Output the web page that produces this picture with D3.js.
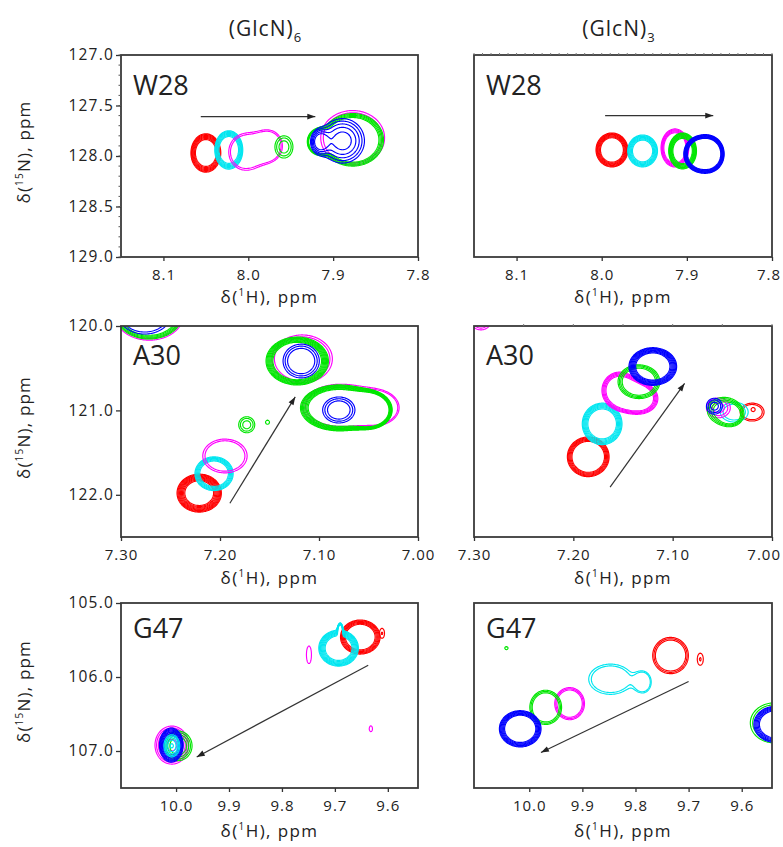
<!DOCTYPE html>
<html><head><meta charset="utf-8">
<script src="https://cdn.jsdelivr.net/npm/d3@7"></script>
<style>
body{margin:0;background:#fff;}
svg text{font-family:"Open Sans",sans-serif;fill:#222;}
</style></head><body>
<svg id="c" width="783" height="847"></svg>
<script>
// ================= DATA =================
// titration points (spectra), drawn in these colours
const steps = [0, 1, 2, 3, 4];
const stepColors = ["#ff0000", "#00e6f0", "#ff00ff", "#00e600", "#0000ff"];

const columnTitles = ["(GlcN)", "(GlcN)"];
const columnSubs = ["6", "3"];
const residues = ["W28", "A30", "G47"];

// axis ranges (ppm) and tick labels
const hRangeW28 = [8.15, 7.80],  nRangeW28 = [127.0, 129.0];
const hRangeA30 = [7.30, 7.00],  nRangeA30 = [120.0, 122.5];
const hRangeG47 = [10.104, 9.543], nRangeG47 = [105.0, 107.5];
const hTicksW28 = [8.1, 8.0, 7.9, 7.8];
const nTicksW28 = [127.0, 127.5, 128.0, 128.5, 129.0];
const hTicksA30 = [7.30, 7.20, 7.10, 7.00];
const nTicksA30 = [120.0, 121.0, 122.0];
const hTicksG47 = [10.0, 9.9, 9.8, 9.7, 9.6];
const nTicksG47 = [105.0, 106.0, 107.0];

// cross peaks: step, number of contour lines, inner/outer contour ratio,
// components [1H ppm, 15N ppm, 1H half-width, 15N half-width]
const peaksW28_6 = [
  {step:0, lines:7, inner:0.70, comps:[[8.050,127.97,0.0176,0.19]]},
  {step:1, lines:7, inner:0.70, comps:[[8.023,127.94,0.0165,0.19]]},
  {step:2, lines:2, inner:0.90, comps:[[8.003,127.96,0.020,0.18],[7.976,127.90,0.016,0.15]]},
  {step:3, lines:3, inner:0.55, comps:[[7.958,127.91,0.0106,0.11]]},
  {step:2, lines:2, inner:0.92, comps:[[7.877,127.82,0.0376,0.27]]},
  {step:3, lines:5, inner:0.85, comps:[[7.877,127.84,0.0364,0.26],[7.918,127.86,0.0106,0.10]]},
  {step:4, lines:5, inner:0.40, comps:[[7.889,127.85,0.0259,0.22],[7.916,127.86,0.009,0.10]]}
];
const peaksW28_3 = [
  {step:0, lines:7, inner:0.72, comps:[[7.988,127.94,0.0187,0.168]]},
  {step:1, lines:7, inner:0.68, comps:[[7.952,127.95,0.0175,0.158]]},
  {step:2, lines:5, inner:0.80, comps:[[7.914,127.92,0.0163,0.188]]},
  {step:3, lines:8, inner:0.70, comps:[[7.905,127.95,0.0163,0.178]]},
  {step:4, lines:8, inner:0.70, comps:[[7.887,127.98,0.0163,0.158],[7.872,127.98,0.0152,0.158]]}
];
const peaksA30_6 = [
  {step:0, lines:9, inner:0.65, comps:[[7.221,121.98,0.0224,0.225]]},
  {step:1, lines:6, inner:0.75, comps:[[7.206,121.75,0.0193,0.20]]},
  {step:2, lines:2, inner:0.90, comps:[[7.195,121.54,0.0224,0.20]]},
  {step:2, lines:2, inner:0.93, comps:[[7.2715,119.858,0.035,0.31]]},
  {step:2, lines:2, inner:0.92, comps:[[7.117,120.39,0.0305,0.284]]},
  {step:2, lines:2, inner:0.92, comps:[[7.078,120.95,0.0387,0.26],[7.040,120.97,0.0183,0.166]]},
  {step:3, lines:3, inner:0.50, comps:[[7.173,121.17,0.0081,0.095]]},
  {step:3, lines:1, inner:0.00, comps:[[7.152,121.14,0.002,0.024]]},
  {step:3, lines:5, inner:0.85, comps:[[7.2715,119.858,0.0336,0.296]]},
  {step:3, lines:8, inner:0.78, comps:[[7.122,120.415,0.0315,0.284]]},
  {step:3, lines:8, inner:0.80, comps:[[7.080,120.97,0.0387,0.272],[7.046,121.00,0.0163,0.166]]},
  {step:4, lines:2, inner:0.90, comps:[[7.276,119.858,0.0265,0.237]]},
  {step:4, lines:3, inner:0.75, comps:[[7.118,120.415,0.0183,0.20]]},
  {step:4, lines:3, inner:0.70, comps:[[7.080,120.995,0.0163,0.154]]}
];
const peaksA30_3 = [
  {step:0, lines:6, inner:0.78, comps:[[7.185,121.55,0.021,0.235]]},
  {step:0, lines:2, inner:0.85, comps:[[7.020,121.02,0.012,0.106]]},
  {step:0, lines:1, inner:0.00, comps:[[7.019,120.99,0.002,0.024]]},
  {step:1, lines:7, inner:0.72, comps:[[7.171,121.16,0.020,0.246]]},
  {step:1, lines:2, inner:0.80, comps:[[7.038,121.02,0.014,0.117]]},
  {step:2, lines:5, inner:0.75, comps:[[7.154,120.76,0.017,0.21],[7.133,120.86,0.018,0.176]]},
  {step:2, lines:3, inner:0.50, comps:[[7.054,120.97,0.012,0.117]]},
  {step:2, lines:2, inner:0.80, comps:[[7.293,119.94,0.010,0.106]]},
  {step:3, lines:4, inner:0.80, comps:[[7.134,120.66,0.021,0.20]]},
  {step:3, lines:4, inner:0.60, comps:[[7.049,121.00,0.016,0.153],[7.041,121.06,0.010,0.106]]},
  {step:4, lines:8, inner:0.72, comps:[[7.120,120.48,0.024,0.223]]},
  {step:4, lines:3, inner:0.50, comps:[[7.058,120.95,0.008,0.094]]}
];
const peaksG47_6 = [
  {step:0, lines:6, inner:0.75, comps:[[9.652,105.46,0.0374,0.23]]},
  {step:0, lines:2, inner:0.30, comps:[[9.611,105.41,0.0047,0.068]]},
  {step:1, lines:8, inner:0.68, comps:[[9.693,105.61,0.0374,0.243],[9.690,105.365,0.0037,0.08]]},
  {step:2, lines:6, inner:0.30, comps:[[10.008,106.92,0.0318,0.257]]},
  {step:2, lines:2, inner:0.00, comps:[[9.749,105.70,0.0047,0.12]]},
  {step:2, lines:1, inner:0.00, comps:[[9.632,106.70,0.003,0.04]]},
  {step:3, lines:4, inner:0.60, comps:[[9.996,106.93,0.0262,0.20]]},
  {step:4, lines:7, inner:0.60, comps:[[10.009,106.92,0.0224,0.23]]},
  {step:1, lines:5, inner:0.20, comps:[[10.008,106.93,0.015,0.149]]}
];
const peaksG47_3 = [
  {step:0, lines:3, inner:0.85, comps:[[9.734,105.71,0.0336,0.245]]},
  {step:0, lines:2, inner:0.30, comps:[[9.678,105.76,0.0056,0.082]]},
  {step:1, lines:2, inner:0.88, comps:[[9.847,106.03,0.041,0.204],[9.786,106.07,0.015,0.136]]},
  {step:2, lines:3, inner:0.85, comps:[[9.924,106.36,0.028,0.217]]},
  {step:3, lines:3, inner:0.85, comps:[[9.969,106.41,0.0299,0.231]]},
  {step:3, lines:2, inner:0.90, comps:[[9.539,106.62,0.0448,0.27]]},
  {step:3, lines:1, inner:0.00, comps:[[10.043,105.61,0.003,0.02]]},
  {step:4, lines:7, inner:0.75, comps:[[10.017,106.70,0.0392,0.245]]},
  {step:4, lines:6, inner:0.75, comps:[[9.536,106.64,0.041,0.245]]}
];

// titration direction arrows [from, to] in ppm
const arrowW28_6 = [[8.056,127.61],[7.921,127.61]];
const arrowW28_3 = [[7.996,127.60],[7.869,127.60]];
const arrowA30_6 = [[7.190,122.10],[7.124,120.84]];
const arrowA30_3 = [[7.163,121.91],[7.088,120.68]];
const arrowG47_6 = [[9.637,105.84],[9.961,107.08]];
const arrowG47_3 = [[9.700,106.06],[9.978,107.02]];

// ================= LAYOUT =================
const rows = [
  {y0:55, y1:257, hR:hRangeW28, nR:nRangeW28, hT:hTicksW28, nT:nTicksW28, hF:".1f", labDy:40, xtY:303},
  {y0:326, y1:537, hR:hRangeA30, nR:nRangeA30, hT:hTicksA30, nT:nTicksA30, hF:".2f", labDy:39, xtY:584},
  {y0:603, y1:788, hR:hRangeG47, nR:nRangeG47, hT:hTicksG47, nT:nTicksG47, hF:".1f", labDy:35, xtY:837}
];
const cols = [{x0:121, x1:418}, {x0:474, x1:772}];
const panelPeaks = [[peaksW28_6, peaksW28_3],[peaksA30_6, peaksA30_3],[peaksG47_6, peaksG47_3]];
const panelArrows = [[arrowW28_6, arrowW28_3],[arrowA30_6, arrowA30_3],[arrowG47_6, arrowG47_3]];

const W = 783;
const color = d3.scaleOrdinal(steps, stepColors);
const svg = d3.select("#c");
const defs = svg.append("defs");
defs.append("marker").attr("id","ah").attr("viewBox","0 -5 10 10")
  .attr("refX",10).attr("refY",0).attr("markerWidth",9).attr("markerHeight",8)
  .attr("markerUnits","userSpaceOnUse").attr("orient","auto")
  .append("path").attr("d","M0,-3.6L10,0L0,3.6Z").attr("fill","#222");

// column titles
cols.forEach((c, ci) => {
  const t = svg.append("text").attr("x", (c.x0 + c.x1) / 2 - 4).attr("y", 36)
    .attr("text-anchor","middle").attr("font-size", 21).attr("letter-spacing", 1);
  t.append("tspan").text(columnTitles[ci]);
  t.append("tspan").attr("font-size", 13).attr("dy", 6).text(columnSubs[ci]);
});

const path = d3.geoPath();

rows.forEach((r, ri) => {
  cols.forEach((c, ci) => {
    const x = d3.scaleLinear().domain(r.hR).range([c.x0, c.x1]);
    const y = d3.scaleLinear().domain(r.nR).range([r.y0, r.y1]);
    const g = svg.append("g");
    const cid = `clip${ri}${ci}`;
    defs.append("clipPath").attr("id", cid).append("rect")
      .attr("x", c.x0).attr("y", r.y0).attr("width", c.x1 - c.x0).attr("height", r.y1 - r.y0);

    // contour field grid
    const m = 12;
    const gx0 = c.x0 - m, gy0 = r.y0 - m;
    const gw = Math.round(c.x1 - c.x0 + 2 * m), gh = Math.round(r.y1 - r.y0 + 2 * m);
    const hs = d3.range(gw).map(i => x.invert(gx0 + i + 0.5));
    const ns = d3.range(gh).map(j => y.invert(gy0 + j + 0.5));
    const cg = g.append("g").attr("clip-path", `url(#${cid})`)
      .append("g").attr("transform", `translate(${gx0},${gy0})`);

    panelPeaks[ri][ci].forEach(pk => {
      const vals = new Float64Array(gw * gh);
      pk.comps.forEach(([h0, n0, rh, rn]) => {
        const ex = hs.map(h => ((h - h0) / rh) ** 2);
        for (let j = 0; j < gh; j++) {
          const ey = ((ns[j] - n0) / rn) ** 2;
          if (ey > 12) continue;
          for (let i = 0; i < gw; i++) {
            const e = 1 - ex[i] - ey;
            if (e > -11) vals[i + j * gw] += Math.exp(e);
          }
        }
      });
      const L = pk.lines;
      const top = 1 - pk.inner * pk.inner;
      const ts = L === 1 ? [1] : d3.range(L).map(k => Math.exp(k / (L - 1) * top));
      const cs = d3.contours().size([gw, gh]).thresholds(ts)(vals);
      cg.append("g").selectAll("path").data(cs).join("path")
        .attr("d", path).attr("fill", "none")
        .attr("stroke", color(pk.step)).attr("stroke-width", 1.15)
        .attr("stroke-linejoin","round");
    });

    // arrow
    const a = panelArrows[ri][ci];
    g.append("line").attr("x1", x(a[0][0])).attr("y1", y(a[0][1]))
      .attr("x2", x(a[1][0])).attr("y2", y(a[1][1]))
      .attr("stroke", "#333").attr("stroke-width", 1.2).attr("marker-end", "url(#ah)");

    // frame
    g.append("rect").attr("x", c.x0).attr("y", r.y0)
      .attr("width", c.x1 - c.x0).attr("height", r.y1 - r.y0)
      .attr("fill", "none").attr("stroke", "#3a3a3a").attr("stroke-width", 1.8);

    // x axis
    const xa = g.append("g").attr("transform", `translate(0,${r.y1})`)
      .call(d3.axisBottom(x).tickValues(r.hT).tickFormat(d3.format(r.hF)).tickSize(4).tickPadding(8));
    xa.select(".domain").remove();
    xa.selectAll("line").attr("stroke", "#333").attr("stroke-width", 1.3);
    xa.selectAll("text").attr("font-size", 15).attr("letter-spacing", 1)
      .attr("font-family", '"Open Sans",sans-serif').attr("fill", "#222");
    // keep tick labels inside the page
    xa.selectAll(".tick").each(function() {
      const t = d3.select(this).select("text");
      const bb = t.node().getBBox();
      const tx = +d3.select(this).attr("transform").match(/translate\(([-\d.]+)/)[1];
      const over = tx + bb.x + bb.width - (W - 2);
      if (over > 0) t.attr("dx", -over);
    });

    // x title
    const xt = g.append("text").attr("x", (c.x0 + c.x1) / 2).attr("y", r.xtY)
      .attr("text-anchor","middle").attr("font-size", 17).attr("letter-spacing", 1.4);
    xt.append("tspan").text("δ(");
    xt.append("tspan").attr("font-size", 10).attr("dy", -7).text("1");
    xt.append("tspan").attr("dy", 7).text("H), ppm");

    // y axis (left column only)
    if (ci === 0) {
      const ya = g.append("g").attr("transform", `translate(${c.x0},0)`)
        .call(d3.axisLeft(y).tickValues(r.nT).tickFormat(d3.format(".1f")).tickSize(5).tickPadding(2));
      ya.select(".domain").remove();
      ya.selectAll("line").attr("stroke", "#333").attr("stroke-width", 1.3);
      ya.selectAll("text").attr("font-size", 15.5).attr("letter-spacing", 1.2)
        .attr("font-family", '"Open Sans",sans-serif').attr("fill", "#222");
      if (ri === 0) {
        const minor = d3.range(r.nR[0], r.nR[1] + 1e-9, 0.1);
        g.append("g").selectAll("line").data(minor).join("line")
          .attr("x1", c.x0 - 2.5).attr("x2", c.x0).attr("y1", d => y(d)).attr("y2", d => y(d))
          .attr("stroke", "#555").attr("stroke-width", 1);
      }
      const yt = g.append("text")
        .attr("transform", `translate(30,${(r.y0 + r.y1) / 2 - 4}) rotate(-90)`)
        .attr("text-anchor","middle").attr("font-size", 17).attr("letter-spacing", 1.2);
      yt.append("tspan").text("δ(");
      yt.append("tspan").attr("font-size", 10).attr("dy", -7).text("15");
      yt.append("tspan").attr("dy", 7).text("N), ppm");
    } else if (ri < 2) {
      // fine ticks along the top edge
      const minor = d3.range(r.hR[1], r.hR[0], ri === 0 ? 0.01 : 0.05);
      g.append("g").selectAll("line").data(minor).join("line")
        .attr("x1", d => x(d)).attr("x2", d => x(d)).attr("y1", r.y0 - 2).attr("y2", r.y0)
        .attr("stroke", "#777").attr("stroke-width", 1);
    }

    // residue label
    g.append("text").attr("x", c.x0 + 12).attr("y", r.y0 + r.labDy)
      .attr("font-size", 27).attr("fill", "#111").text(residues[ri]);
  });
});
</script>
</body></html>
